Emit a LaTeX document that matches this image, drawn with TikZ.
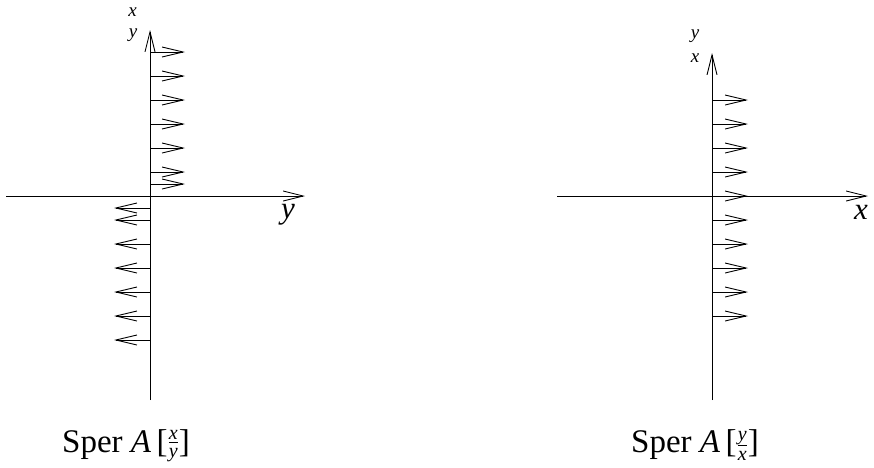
\documentclass[tikz,border=0pt]{standalone}
\usepackage{amsmath}
\usepackage{fontspec}
\setmainfont{Liberation Serif}
\usetikzlibrary{arrows.meta}
\newcommand{\fracsz}{\fontsize{20}{20}\selectfont\itshape}
\newcommand{\myfrac}[2]{\ensuremath{\vcenter{\hbox{\ensuremath{\frac{\hbox{\fracsz #1}}{\hbox{\fracsz #2}}}}}}}
\tikzset{
  ln/.style={line width=0.9pt, black},
  barb/.style={ln, -{Straight Barb[length=21pt,width=10pt,line width=0.9pt]}},
  axbarb/.style={ln, -{Straight Barb[length=20pt,width=10pt,line width=0.9pt]}},
  small/.style={font=\fontsize{19}{19}\selectfont\itshape, inner sep=0pt, anchor=base},
  big/.style={font=\fontsize{31}{31}\selectfont\itshape, inner sep=0pt, anchor=base},
  caption/.style={font=\fontsize{33}{33}\selectfont, inner sep=0pt, anchor=base west}
}
\begin{document}
\begin{tikzpicture}[x=1pt,y=-1pt]
\useasboundingbox (0,0) rectangle (874,467);
% ---------- left diagram ----------
\coordinate (LB) at (150,400);
\coordinate (LT) at (150,30);
\coordinate (LL) at (6,196);
\coordinate (LR) at (305,196);
\draw[axbarb] (LB) -- (LT);
\draw[axbarb] (LL) -- (LR);
\foreach \yy in {52,76,100,124,148,172,184}{
  \draw[barb] (150,\yy) -- (185,\yy);
}
\foreach \yy in {208,220,244,268,292,316,340}{
  \draw[barb] (150,\yy) -- (114,\yy);
}
\node[small] (lx) at (132.5,16) {x};
\node[small] (ly) at (133,37) {y};
\node[big] (lyax) at (288,218) {y};
\node[caption] (lcap) at (62,452) {Sper \textit{A}\,[\myfrac{x}{y}]};
% ---------- right diagram ----------
\coordinate (RB) at (712,400);
\coordinate (RT) at (712,53);
\coordinate (RL) at (557,196);
\coordinate (RR) at (868,196);
\draw[axbarb] (RB) -- (RT);
\draw[axbarb] (RL) -- (RR);
\foreach \yy in {100,124,148,172,196,220,244,268,292,316}{
  \draw[barb] (712,\yy) -- (748,\yy);
}
\node[small] (ry) at (695,38) {y};
\node[small] (rx) at (695,62) {x};
\node[big] (rxax) at (861,219) {x};
\node[caption] (rcap) at (631,452) {Sper \textit{A}\,[\myfrac{y}{x}]};
\end{tikzpicture}
\end{document}
